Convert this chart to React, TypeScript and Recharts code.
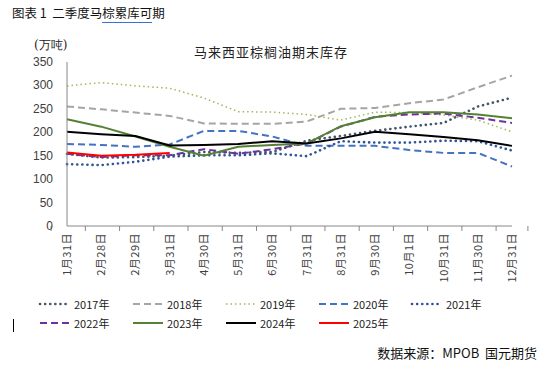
import { Line, LineChart, XAxis, YAxis } from 'recharts';

const categories = ['1月31日', '2月28日', '2月29日', '3月31日', '4月30日', '5月31日', '6月30日', '7月31日', '8月31日', '9月30日', '10月1日', '10月31日', '11月30日', '12月31日'];

const s2017 = [154, 146, 147, 150, 158, 156, 158, 182, 192, 203, 212, 220, 255, 274];
const s2018 = [255, 249, 242, 235, 219, 218, 218, 223, 250, 252, 262, 270, 296, 321];
const s2019 = [299, 306, 299, 294, 273, 244, 243, 238, 226, 243, 242, 237, 226, 201];
const s2020 = [175, 173, 169, 174, 203, 203, 191, 171, 171, 171, 162, 156, 156, 127];
const s2021 = [132, 130, 137, 148, 151, 151, 155, 149, 181, 178, 178, 182, 181, 161];
const s2022 = [154, 147, 151, 151, 164, 154, 164, 176, 212, 233, 238, 240, 231, 220];
const s2023 = [228, 212, 191, 169, 150, 169, 173, 176, 213, 232, 243, 243, 238, 230];
const s2024 = [201, 196, 192, 172, 173, 175, 181, 176, 187, 201, 196, 190, 183, 171];
const s2025 = [157, 150, 152, 156];

const yTicks = [0, 50, 100, 150, 200, 250, 300, 350];

const data = categories.map((name, i) => ({
    name,
    y2017: s2017[i],
    y2018: s2018[i],
    y2019: s2019[i],
    y2020: s2020[i],
    y2021: s2021[i],
    y2022: s2022[i],
    y2023: s2023[i],
    y2024: s2024[i],
    y2025: s2025[i],
}));

// year, key, color, dash, width, cap
const SERIES: [string, string, string, string | undefined, number, 'round' | 'butt'][] = [
    ['2017年', 'y2017', '#44546A', '0.1 5', 2.6, 'round'],
    ['2018年', 'y2018', '#A5A5A5', '7 4', 2, 'butt'],
    ['2019年', 'y2019', '#9BBB59', '1.5 3', 1.5, 'butt'],
    ['2020年', 'y2020', '#4472C4', '7 4', 2, 'butt'],
    ['2021年', 'y2021', '#2F5597', '0.1 5', 2.6, 'round'],
    ['2022年', 'y2022', '#7030A0', '7 4', 2, 'butt'],
    ['2023年', 'y2023', '#548235', undefined, 2, 'butt'],
    ['2024年', 'y2024', '#000000', undefined, 2, 'butt'],
    ['2025年', 'y2025', '#FF0000', undefined, 2, 'butt'],
];

const W = 551;
const CH = 290;
const X_AXIS_H = 64;
const AXIS_Y = CH - X_AXIS_H;
const PLOT_LEFT = 67;
const PLOT_RIGHT = 512;
const BAND = (PLOT_RIGHT - PLOT_LEFT) / categories.length;

const XTick = (props: any) => {
    const { x, payload, index } = props;
    return (
        <g>
            <line x1={x - BAND / 2} y1={AXIS_Y} x2={x - BAND / 2} y2={AXIS_Y + 5} stroke="#888" />
            {index === categories.length - 1 && (
                <line x1={x + BAND / 2} y1={AXIS_Y} x2={x + BAND / 2} y2={AXIS_Y + 5} stroke="#888" />
            )}
            <text
                x={0}
                y={0}
                transform={`translate(${x + 4},${AXIS_Y + 7}) rotate(-90)`}
                textAnchor="end"
                fontSize={11}
                fill="#404040"
                letterSpacing={0.5}
                fontFamily="'Noto Sans CJK SC', sans-serif"
            >
                {payload.value}
            </text>
        </g>
    );
};

const YTick = (props: any) => {
    const { y, payload } = props;
    return (
        <text x={53} y={y + 4} textAnchor="end" fontSize={12} fill="#404040" fontFamily="'Liberation Sans', Arial, sans-serif">
            {payload.value}
        </text>
    );
};

const LegendItem = ({ s }: { s: (typeof SERIES)[number] }) => (
    <div style={{ display: 'flex', alignItems: 'center', width: 93 }}>
        <svg width={34} height={8}>
            <line x1={2} y1={4} x2={32} y2={4} stroke={s[2]} strokeWidth={s[4]} strokeDasharray={s[3]} strokeLinecap={s[5]} />
        </svg>
        <span style={{ fontSize: 11, color: '#222', marginLeft: 2 }}>{s[0]}</span>
    </div>
);

export default function App() {
    return (
        <div style={{ position: 'absolute', left: 0, top: 0, width: W, height: 367, background: '#fff', fontFamily: "'Noto Sans CJK SC', sans-serif" }}>
            <div style={{ position: 'absolute', left: 12, top: 3, fontSize: 12.5, color: '#111', whiteSpace: 'nowrap' }}>
                图表 1&nbsp; 二季度马<span style={{ borderBottom: '1.5px solid #3a6fd8' }}>棕累库可</span>期
            </div>
            <div style={{ position: 'absolute', left: 34, top: 37, fontSize: 12, color: '#222', fontFamily: "'DejaVu Serif', serif" }}>(万吨)</div>
            <div style={{ position: 'absolute', left: 0, width: 542, textAlign: 'center', top: 42, fontSize: 13, color: '#222', letterSpacing: 1 }}>
                马来西亚棕榈油期末库存
            </div>
            <div style={{ position: 'absolute', left: 0, top: 0 }}>
                <LineChart width={W} height={CH} data={data} margin={{ top: 62, right: W - PLOT_RIGHT, left: 0, bottom: 0 }}>
                    <XAxis dataKey="name" interval={0} height={X_AXIS_H} tickLine={false} stroke="#888" tick={<XTick />} />
                    <YAxis width={PLOT_LEFT} domain={[0, 350]} ticks={yTicks} tickLine={false} stroke="#888" tick={<YTick />} />
                    {SERIES.map((s) => (
                        <Line
                            key={s[1]}
                            type="linear"
                            dataKey={s[1]}
                            stroke={s[2]}
                            strokeWidth={s[4]}
                            strokeDasharray={s[3]}
                            strokeLinecap={s[5]}
                            dot={false}
                            isAnimationActive={false}
                        />
                    ))}
                </LineChart>
            </div>
            <div style={{ position: 'absolute', left: 13, top: 319, width: 1, height: 13, background: '#000' }} />
            <div style={{ position: 'absolute', left: 38, top: 296, display: 'flex' }}>
                {SERIES.slice(0, 5).map((s) => (
                    <LegendItem key={s[1]} s={s} />
                ))}
            </div>
            <div style={{ position: 'absolute', left: 38, top: 315, display: 'flex' }}>
                {SERIES.slice(5).map((s) => (
                    <LegendItem key={s[1]} s={s} />
                ))}
            </div>
            <div style={{ position: 'absolute', right: 14, top: 343, fontSize: 13, color: '#111' }}>数据来源：MPOB&nbsp; 国元期货</div>
        </div>
    );
}
